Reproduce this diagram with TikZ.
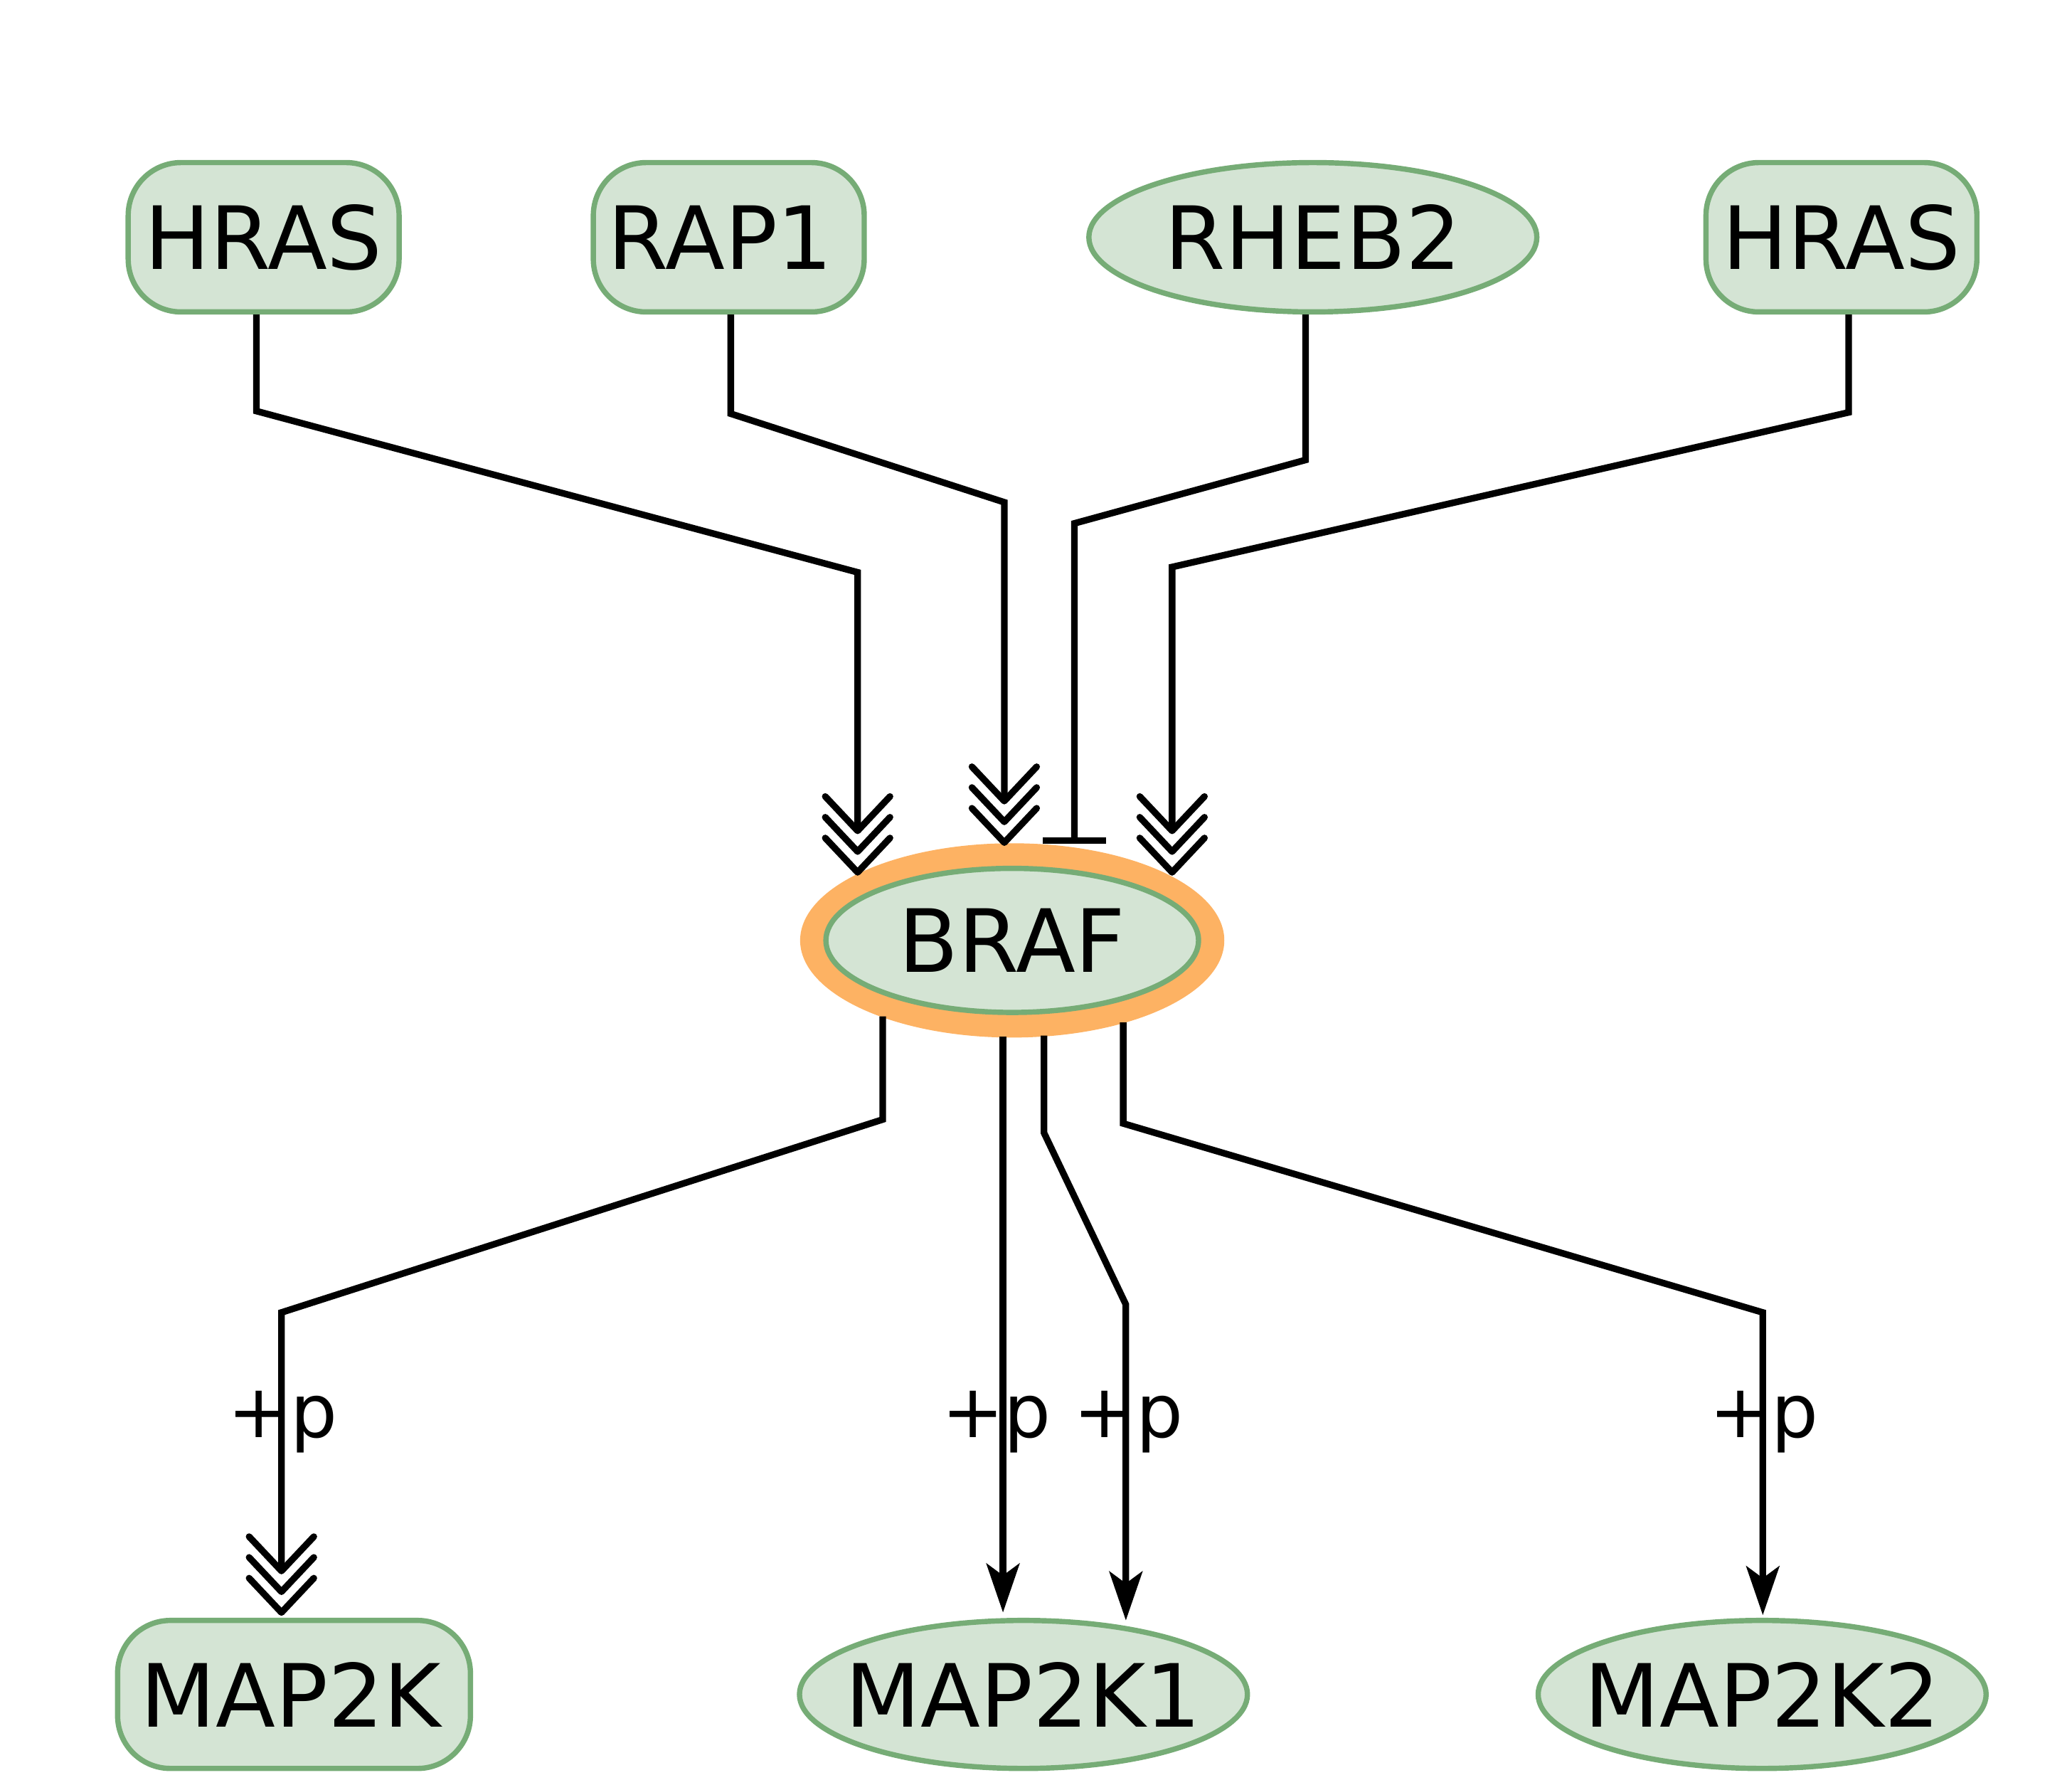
\documentclass[tikz,border=0pt]{standalone}
\usepackage{fontspec}
\setmainfont{DejaVu Sans}
\usetikzlibrary{arrows.meta,shapes.geometric,calc}
\definecolor{nodefill}{HTML}{D4E4D4}
\definecolor{nodeline}{HTML}{76AC76}
\definecolor{halo}{HTML}{FDB263}
\tikzset{
 gene/.style={draw=nodeline,fill=nodefill,line width=4pt,font=\fontsize{66}{72}\selectfont,inner sep=0pt},
 generect/.style={gene,rectangle,rounded corners=40pt,minimum width=205pt,minimum height=113pt},
 geneell/.style={gene,ellipse,minimum width=339pt,minimum height=113pt},
 edge/.style={line width=5pt,black},
 plab/.style={font=\fontsize{56}{60}\selectfont,inner sep=0pt},
 conv/.style={edge,-{Stealth[length=37pt,width=25pt,inset=9pt]}},
 inhib/.style={edge,-{Bar[width=48pt,line width=5pt]}},
 chevthree/.pic={\foreach \d in {0,15.7,31.4}
   \draw[line width=5pt,line cap=round,line join=round] (-24.5,-26-\d) -- (0,-\d) -- (24.5,-26-\d);},
}
\newcommand{\zw}[1]{\makebox[0pt]{#1}}
\begin{document}
\begin{tikzpicture}[x=1pt,y=-1pt]
\useasboundingbox (0,0) rectangle (1568,1350);
% nodes
\node[generect] (hras1) at (199.5,179.5) {HRAS};
\node[generect] (rap1) at (551.5,179.5) {\hspace*{-12.6pt}RAP1};
\node[geneell] (rheb2) at (993.5,179.5) {\zw{RHEB2}};
\node[generect] (hras2) at (1393.5,179.5) {HRAS};
\node[ellipse,fill=halo,minimum width=321pt,minimum height=147pt,inner sep=0pt] (braf) at (766,711.5) {};
\node[geneell,minimum width=282pt,minimum height=109pt] (brafin) at (766,711.5) {\zw{BRAF}};
\node[generect,minimum width=267pt,minimum height=112pt] (map2k) at (222.5,1282) {\hspace*{-5pt}MAP2K};
\node[geneell,minimum height=112pt] (map2k1) at (774.5,1282) {\zw{MAP2K1}};
\node[geneell,minimum height=112pt] (map2k2) at (1333.5,1282) {\zw{MAP2K2}};
% in-points on BRAF
\coordinate (e1) at ($(braf.center)+(-117,-51.5)$);
\coordinate (e2) at ($(braf.center)+(-6,-74)$);
\coordinate (e3) at ($(braf.center)+(47,-73)$);
\coordinate (e4) at ($(braf.center)+(121,-51.5)$);
% out-points on BRAF
\coordinate (o1) at ($(braf.center)+(-98,57.5)$);
\coordinate (o2) at ($(braf.center)+(-7,73)$);
\coordinate (o3) at ($(braf.center)+(24,72)$);
\coordinate (o4) at ($(braf.center)+(84,62)$);
% targets
\coordinate (m0) at ($(map2k.north)+(-9.5,-4)$);
\coordinate (m1a) at ($(map2k1.north)+(-15.5,-4)$);
\coordinate (m1b) at ($(map2k1.north)+(77.5,2)$);
\coordinate (m2) at ($(map2k2.north)+(0.5,-2)$);
% incoming edges
\draw[edge] ([xshift=-5.5pt]hras1.south) -- (194,311) -- (649,433) -- ($(e1)+(0,-31.4)$);
\pic at (e1) {chevthree};
\draw[edge] ([xshift=1.5pt]rap1.south) -- (553,313) -- (760,380) -- ($(e2)+(0,-31.4)$);
\pic at (e2) {chevthree};
\draw[inhib] ([xshift=-5.5pt]rheb2.south) -- (988,348) -- (813,396) -- (e3);
\draw[edge] ([xshift=5.5pt]hras2.south) -- (1399,312) -- (887,429) -- ($(e4)+(0,-31.4)$);
\pic at (e4) {chevthree};
% outgoing edges
\draw[edge] (o1) -- (668,847) -- (213,993) -- ($(m0)+(0,-31.4)$);
\pic at (m0) {chevthree};
\draw[conv] (o2) -- (m1a);
\draw[conv] (o3) -- (790,857) -- (852,987) -- (m1b);
\draw[conv] (o4) -- (850,850) -- (1334,993) -- (m2);
% labels
\node[plab] (p0) at (214,1076) {+p};
\node[plab] (p1) at (754,1076) {+p};
\node[plab] (p2) at (854,1076) {+p};
\node[plab] (p3) at (1335,1076) {+p};
\end{tikzpicture}
\end{document}
